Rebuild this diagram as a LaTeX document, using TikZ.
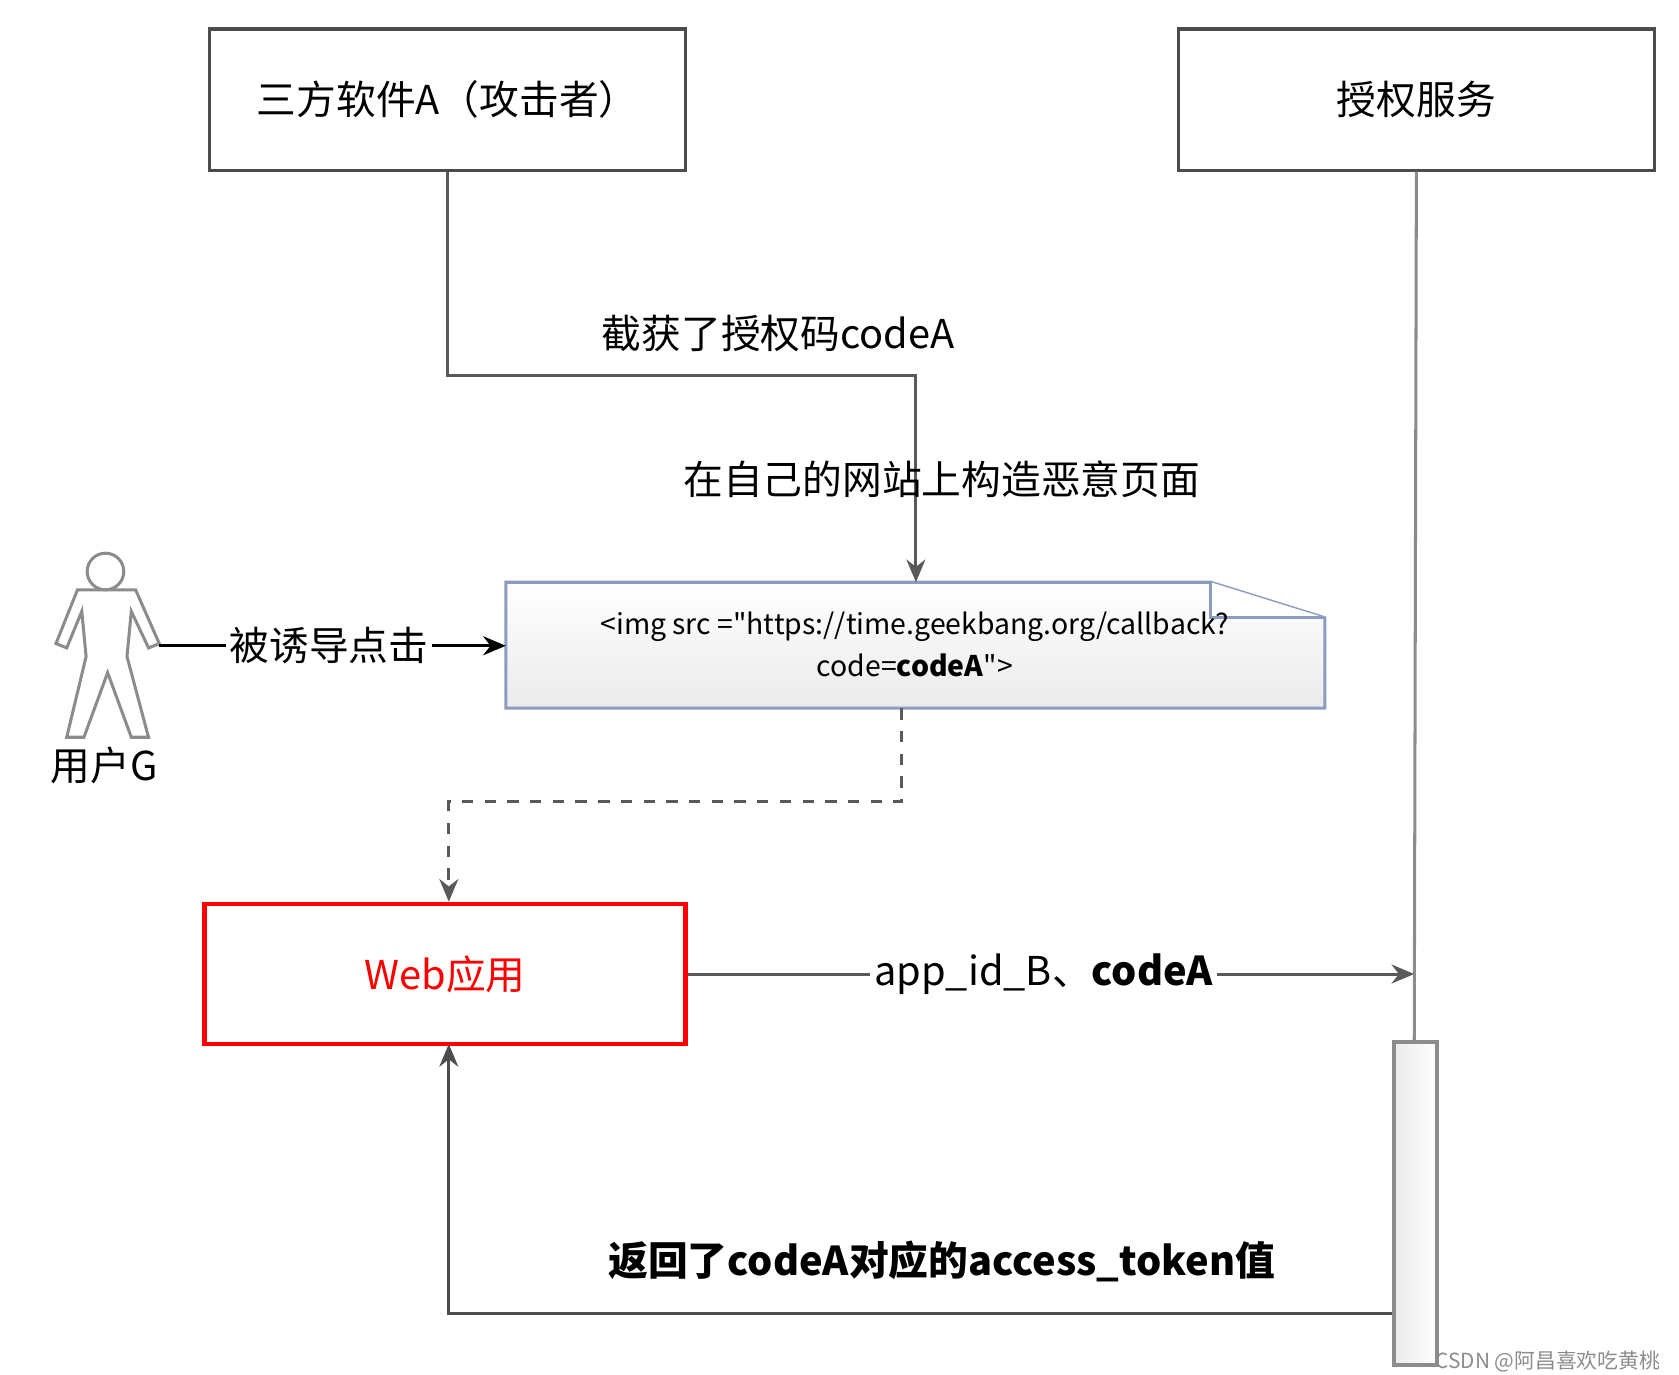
\documentclass[tikz,border=0pt]{standalone}
\usepackage{fontspec}
\setmainfont{Noto Sans CJK SC}
\usetikzlibrary{arrows.meta}
\definecolor{noteline}{RGB}{140,155,190}
\tikzset{
  actorbox/.style={draw=black!70,line width=0.8pt,minimum width=4.42cm,minimum height=1.31cm,font=\fontsize{10.5}{13}\selectfont},
  msg/.style={font=\fontsize{10.5}{13}\selectfont,fill=white,inner sep=1pt},
  line/.style={draw=black!45,line width=0.8pt},
  arr/.style={line,-{Stealth[length=6pt,width=5pt]},draw=black!65}
}
\begin{document}
\begin{tikzpicture}[x=0.01cm,y=-0.01cm]
  \useasboundingbox (0,0) rectangle (1560,1277);
  % the two parties
  \node[actorbox] (appA) at (416,92.5) {三方软件A（攻击者）};
  \node[actorbox] (auth) at (1316,92.5) {授权服务};
  %% lifeline of the auth service
  \coordinate (authIn) at (1314,905);
  \draw[line] (auth.south) -- (1314,968);
  \node[draw=black!45,line width=1pt,left color=black!8,right color=white,minimum width=0.4cm,minimum height=3cm,inner sep=0] (act) at (1315,1118) {};
  %% the forged page (note)
  \draw[draw=noteline,line width=0.8pt,top color=white,bottom color=blue!10!black!8] (470,541) -- (1125,541) -- (1231,574) -- (1231,658) -- (470,658) -- cycle;
  \draw[draw=noteline,line width=0.8pt,fill=white] (1125,541) -- (1125,574) -- (1231,574);
  \node[font=\fontsize{7.5}{11}\selectfont,align=center] (page) at (850,599) {<img src =\textquotedbl https://time.geekbang.org/callback?\\code=\textbf{codeA}\textquotedbl>};
  \coordinate (pageW) at (470,600);
  \coordinate (pageN) at (851,541);
  \coordinate (pageS) at (838,658);
  %% attacker intercepts the code
  \draw[arr] (appA.south) |- (851,349) -- (pageN);
  \node[msg,fill=none] (lbl1) at (723,310) {截获了授权码codeA};
  \node[msg,fill=none] (lbl2) at (875,445) {在自己的网站上构造恶意页面};
  %% the user
  \begin{scope}[draw=black!45,fill=black!4,line width=0.8pt]
    \draw (98,531) circle (0.17cm);
    \draw (72,548) -- (126,548) -- (148,598) -- (138,602) -- (122,568) -- (118,610) -- (138,685) -- (122,685) -- (100,625)
      -- (78,685) -- (62,685) -- (80,610) -- (76,568) -- (62,602) -- (52,598) -- cycle;
  \end{scope}
  \coordinate (userR) at (148,600);
  \node[font=\fontsize{10.5}{13}\selectfont] (userG) at (97,711) {用户G};
  \draw[arr,draw=black] (userR) -- (pageW) node[msg,pos=0.49] {被诱导点击};
  %% the web app
  \node[draw=red,line width=1.2pt,minimum width=4.47cm,minimum height=1.3cm,text=red,font=\fontsize{10.5}{13}\selectfont] (web) at (413.5,905) {Web应用};
  \draw[arr,dashed] (pageS) -- (838,745) -- (417,745) -- (web.north -| 417,0);
  %% exchange the code
  \draw[arr] (web.east) -- (authIn) node[msg,pos=0.49] {app\_id\_B、\textbf{codeA}};
  \draw[arr,draw=black!70] (act.west |- 0,1220) -- (417,1220) -- (417,970);
  \node[msg,fill=none,font=\bfseries\fontsize{10.5}{13}\selectfont] (lbl3) at (875,1172) {返回了codeA对应的access\_token值};
  \node[text=black!45,font=\fontsize{5.5}{7}\selectfont,anchor=east] (mark) at (1555,1265) {CSDN @阿昌喜欢吃黄桃};
\end{tikzpicture}
\end{document}
